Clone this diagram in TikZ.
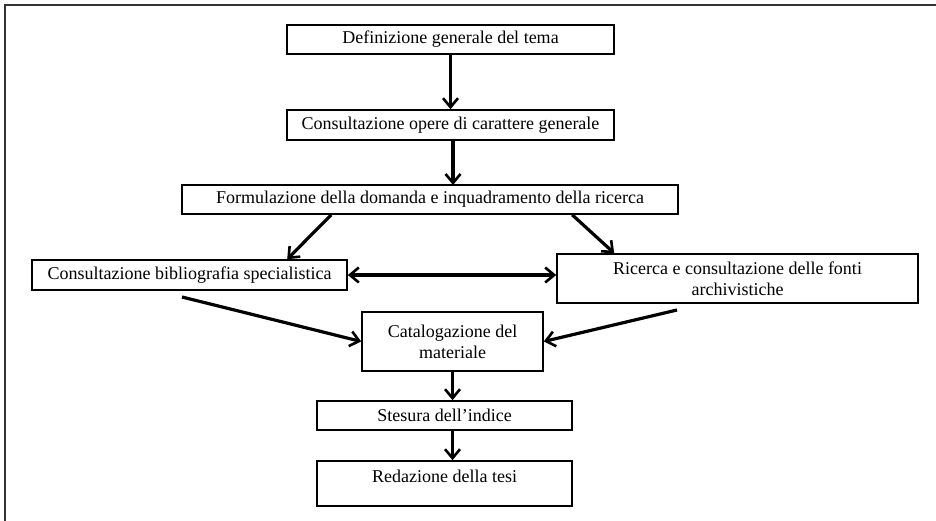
\documentclass[tikz,border=0pt]{standalone}
\usepackage{fontspec}
\setmainfont{Liberation Serif}
\usepackage{tikz}
\usetikzlibrary{arrows.meta}

\tikzset{
  passo/.style={draw, line width=1.6pt, inner sep=2pt, align=center,
    font=\fontsize{18}{21}\selectfont},
  punta/.tip={Straight Barb[length=9pt,width=15pt,line width=2.6pt]},
  freccia/.style={line width=3.2pt, -punta},
  doppia/.style={line width=3.2pt, punta-punta}
}

\begin{document}
\begin{tikzpicture}[x=1pt, y=-1pt]
  \useasboundingbox (0,0) rectangle (936,521);
  \draw[line width=1.5pt, black!80] (5,521) -- (5,5) -- (936,5);

  \node[passo, minimum width=327pt, minimum height=29pt] (tema) at (450.5,39.5) {Definizione generale del tema};
  \node[passo, minimum width=327pt, minimum height=30pt] (opere) at (450.5,125) {Consultazione opere di carattere generale};
  \node[passo, minimum width=496pt, minimum height=29pt] (domanda) at (430,199.5) {Formulazione della domanda e inquadramento della ricerca};
  \node[passo, minimum width=315pt, minimum height=30pt] (biblio) at (189.5,275) {Consultazione bibliografia specialistica};
  \node[passo, minimum width=361pt, minimum height=49pt] (fonti) at (737.5,278.5) {Ricerca e consultazione delle fonti\\archivistiche};
  \node[passo, minimum width=181pt, minimum height=59pt] (catalogo) at (452.5,341.5) {Catalogazione del\\materiale};
  \node[passo, minimum width=255pt, minimum height=29pt] (indice) at (444.5,415.5) {Stesura dell’indice};
  \node[passo, minimum width=255pt, minimum height=45pt, text height=11pt, text depth=13pt] (tesi) at (444.5,483.5) {Redazione della tesi};

  \coordinate (da_biblio) at (182,297);
  \coordinate (da_fonti) at (677,310);

  \draw[freccia] (tema.south -| opere.north) -- (opere.north);
  \draw[freccia] (453,140) -- (453,185);
  \draw[freccia] ([xshift=150pt]domanda.south west) -- ([xshift=256pt]biblio.north west);
  \draw[freccia] ([xshift=391pt]domanda.south west) -- ([xshift=58pt]fonti.north west);
  \draw[doppia] (biblio.east) -- (biblio.east -| fonti.west);
  \draw[freccia] (da_biblio) -- (catalogo.west);
  \draw[freccia] (da_fonti) -- (catalogo.east);
  \draw[freccia] (catalogo.south) -- (catalogo.south |- indice.north);
  \draw[freccia] (catalogo.south |- indice.south) -- (catalogo.south |- tesi.north);
\end{tikzpicture}
\end{document}
